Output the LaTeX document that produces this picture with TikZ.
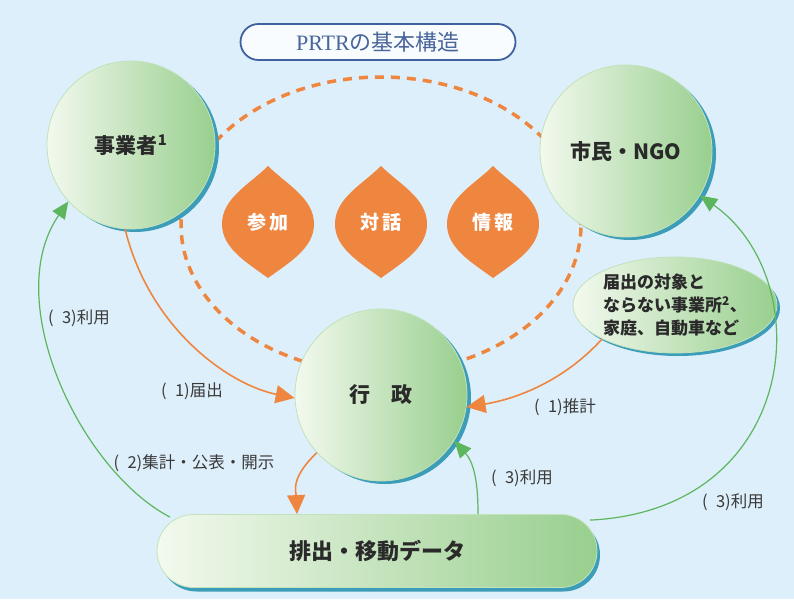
\documentclass[tikz,border=0pt]{standalone}
\usepackage{fontspec}
\setmainfont{Noto Sans CJK JP}
\newfontfamily\serifpr{Liberation Serif}
\usetikzlibrary{arrows.meta,shapes.geometric,shapes.misc}
\definecolor{bg}{HTML}{DDEFFA}
\definecolor{org}{HTML}{EF8640}
\definecolor{grn}{HTML}{5DB65E}
\definecolor{rimcol}{HTML}{3C9DB8}
\definecolor{bubL}{HTML}{F3F9EE}
\definecolor{bubR}{HTML}{98CF8E}
\definecolor{ttl}{HTML}{3F619F}
\definecolor{txt}{HTML}{2A2A2A}
\definecolor{lbl}{HTML}{3A3A3A}
\begin{document}
\begin{tikzpicture}[x=1pt,y=-1pt,
  bub/.style={circle, inner sep=0pt, left color=bubL, right color=bubR, draw=bubR!60!white, line width=0.8pt, font=\fontsize{21}{25}\selectfont\bfseries, text=txt},
  rimc/.style={circle, inner sep=0pt, fill=rimcol},
  oarr/.style={draw=org, line width=1.6pt, -{Triangle[length=19pt,width=18pt]}},
  garr/.style={draw=grn, line width=1.2pt, -{Triangle[length=17pt,width=15pt]}},
  lab/.style={font=\fontsize{16.5}{19}\selectfont, text=lbl},
  lenstxt/.style={font=\fontsize{19}{22}\selectfont\bfseries, text=white},
  lens/.pic={\fill[org] (0,-56) .. controls (18,-38) and (46,-24) .. (46,2) .. controls (46,26) and (22,40) .. (0,56) .. controls (-22,40) and (-46,26) .. (-46,2) .. controls (-46,-24) and (-18,-38) .. (0,-56) -- cycle;}
]
\fill[bg] (0,0) rectangle (794,599);
\useasboundingbox (0,0) rectangle (794,599);

% dashed ring
\node[draw=org, ellipse, dash pattern=on 9pt off 7pt, line width=3.5pt, minimum width=400pt, minimum height=296pt, inner sep=0pt] (ring) at (381,225) {};

% lenses
\pic at (268,222) {lens};
\pic at (381,222) {lens};
\pic at (493,222) {lens};
\node[lenstxt] (l1) at (268,222) {参\,加};
\node[lenstxt] (l2) at (381,222) {対\,話};
\node[lenstxt] (l3) at (493,222) {情\,報};

% title
\node[draw=ttl, line width=1.8pt, rounded rectangle, fill=white!80!bg, minimum width=275pt, minimum height=36pt, inner sep=0pt, text=ttl!85!gray, font=\fontsize{22}{26}\selectfont] (title) at (378,42) {{\serifpr PRTR}の基本構造};

% circles
\node[rimc, minimum size=168pt] at (135,148) {};
\node[bub, minimum size=168pt] (biz) at (131,145) {事業者\textsuperscript{1}};
\node[rimc, minimum size=172pt] at (630,154) {};
\node[bub, minimum size=172pt] (civ) at (626,151) {市民・NGO};
\node[rimc, minimum size=172pt] at (385,398) {};
\node[bub, minimum size=172pt] (gov) at (381,395) {行\quad 政};

% small ellipse
\node[ellipse, fill=rimcol, minimum width=204pt, minimum height=96pt, inner sep=0pt] at (678,308) {};
\node[ellipse, left color=bubL, right color=bubR, draw=bubR!60!white, line width=0.8pt, minimum width=204pt, minimum height=96pt, inner sep=0pt, align=left, text=txt, font=\fontsize{17}{23}\selectfont\bfseries] (est) at (675,305) {届出の対象と\\ならない事業所\textsuperscript{2}、\\家庭、自動車など};

% data pill
\node[rounded rectangle, fill=rimcol, minimum width=440pt, minimum height=73pt, inner sep=0pt] at (380,555) {};
\node[rounded rectangle, left color=bubL, right color=bubR, draw=bubR!60!white, line width=0.8pt, minimum width=440pt, minimum height=73pt, inner sep=0pt, text=txt, font=\fontsize{22}{26}\selectfont\bfseries] (data) at (377,551) {排出・移動データ};

% orange arrows
\draw[oarr] (biz.266) .. controls (150,330) and (230,385) .. (gov.182);
\draw[oarr] (est.205) .. controls (560,385) and (510,400) .. (gov.-8);
\draw[oarr] (gov.222) .. controls (290,478) and (296,492) .. ([xshift=-80pt]data.north);

% green arrows
\draw[garr] ([xshift=-207pt,yshift=-3pt]data.north) .. controls (80,470) and (0,300) .. (biz.222);
\draw[garr] ([xshift=101pt]data.north) .. controls (478,490) and (476,465) .. (gov.-32);
\draw[garr] ([xshift=213pt,yshift=-6pt]data.north) .. controls (800,510) and (820,280) .. (civ.-31);

% labels
\node[lab] (t1) at (79,318) {(\enspace 3)利用};
\node[lab] (t2) at (192,391) {(\enspace 1)届出};
\node[lab] (t3) at (194,463) {(\enspace 2)集計・公表・開示};
\node[lab] (t4) at (565,407) {(\enspace 1)推計};
\node[lab] (t5) at (522,478) {(\enspace 3)利用};
\node[lab] (t6) at (733,502) {(\enspace 3)利用};
\end{tikzpicture}
\end{document}
